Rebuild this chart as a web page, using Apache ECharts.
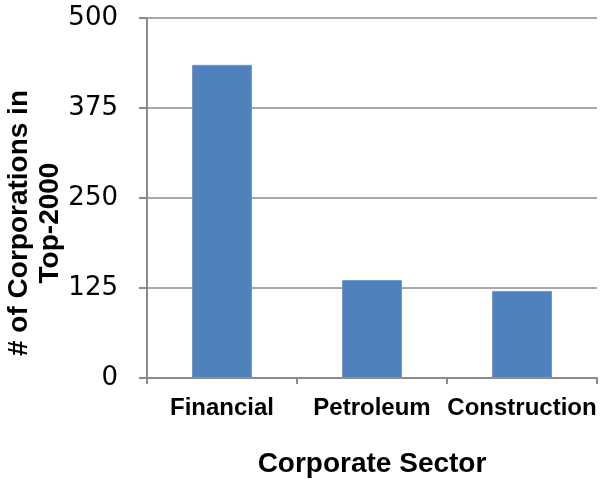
<!DOCTYPE html>
<html>
<head>
<meta charset="utf-8">
<script src="https://cdn.jsdelivr.net/npm/echarts@6/dist/echarts.min.js"></script>
<style>
  html, body { margin: 0; padding: 0; background: #fff; }
  #chart { width: 600px; height: 479px; }
</style>
</head>
<body>
<div id="chart"></div>
<script>
// Corporations in the Top-2000 by sector
const sectors = ['Financial', 'Petroleum', 'Construction'];
const corporationCounts = [435, 136, 121];
const yTicks = [0, 125, 250, 375, 500];

const gridColor = '#8a8a8a';
const chart = echarts.init(document.getElementById('chart'), null, { renderer: 'canvas' });

chart.setOption({
  animation: false,
  backgroundColor: '#ffffff',
  grid: { left: 147, right: 3, top: 18, bottom: 101, containLabel: false, outerBoundsMode: 'none' },
  xAxis: {
    type: 'category',
    data: sectors,
    boundaryGap: true,
    name: 'Corporate Sector',
    nameLocation: 'middle',
    nameGap: 72,
    nameTextStyle: { fontFamily: 'Liberation Sans, Arial, sans-serif', fontWeight: 'bold', fontSize: 28, color: '#000' },
    axisLine: { show: true, lineStyle: { color: gridColor, width: 2 } },
    axisTick: { show: true, length: 6, lineStyle: { color: gridColor, width: 2 } },
    axisLabel: { margin: 18, fontFamily: 'Liberation Sans, Arial, sans-serif', fontWeight: 'bold', fontSize: 24, color: '#000', interval: 0 },
    splitLine: { show: false }
  },
  yAxis: {
    type: 'value',
    min: yTicks[0],
    max: yTicks[yTicks.length - 1],
    interval: yTicks[1] - yTicks[0],
    axisLine: { show: true, lineStyle: { color: gridColor, width: 2 } },
    axisTick: { show: true, length: 8, lineStyle: { color: gridColor, width: 2 } },
    axisLabel: { margin: 29, fontFamily: 'DejaVu Sans, Verdana, sans-serif', fontSize: 26, color: '#000' },
    splitLine: { show: true, lineStyle: { color: gridColor, width: 1.5 } }
  },
  graphic: [{
    type: 'text',
    x: 35,
    y: 223,
    rotation: Math.PI / 2,
    style: {
      text: '# of Corporations in\nTop-2000',
      font: 'bold 28px "Liberation Sans", Arial, sans-serif',
      fill: '#000',
      align: 'center',
      verticalAlign: 'middle',
      lineHeight: 31
    }
  }],
  series: [{
    type: 'bar',
    data: corporationCounts,
    barWidth: '40%',
    itemStyle: { color: '#4f81bd', borderColor: '#7399c9', borderWidth: 1 }
  }]
});
</script>
</body>
</html>
